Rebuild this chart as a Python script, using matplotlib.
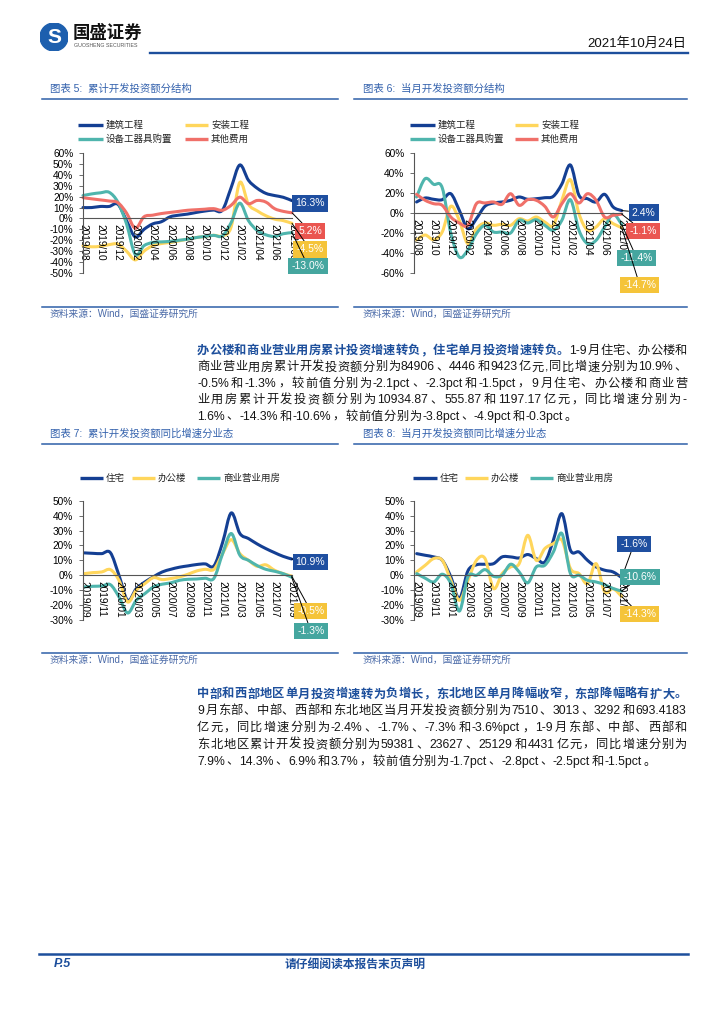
import numpy as np
import matplotlib
matplotlib.use('Agg')
import matplotlib.pyplot as plt
from matplotlib.path import Path
from matplotlib.patches import PathPatch, Circle
from matplotlib.lines import Line2D

plt.rcParams['font.family'] = ['Liberation Sans', 'Noto Sans CJK SC']
plt.rcParams['axes.unicode_minus'] = False

W, H = 724, 1024

# ---------------- data ----------------
cats_a = ['2019/08', '2019/09', '2019/10', '2019/11', '2019/12',
          '2020/01', '2020/02', '2020/03', '2020/04', '2020/05', '2020/06',
          '2020/07', '2020/08', '2020/09', '2020/10', '2020/11', '2020/12',
          '2021/01', '2021/02', '2021/03', '2021/04', '2021/05', '2021/06',
          '2021/07', '2021/08']
cats_b = ['2019/09', '2019/10', '2019/11', '2019/12', '2020/01',
          '2020/02', '2020/03', '2020/04', '2020/05', '2020/06', '2020/07',
          '2020/08', '2020/09', '2020/10', '2020/11', '2020/12', '2021/01',
          '2021/02', '2021/03', '2021/04', '2021/05', '2021/06', '2021/07',
          '2021/08', '2021/09']

names_struct = ['建筑工程', '安装工程', '设备工器具购置', '其他费用']
names_type = ['住宅', '办公楼', '商业营业用房']

# 图表5 累计
c5_build = [10, 10, 11, 11, 13, -2, -17, -10, -5, -3, 1.5, 3, 4, 5.5, 6.8, 7.7, 7.5, 28, 49, 35, 27.7, 23, 21, 19.4, 16.3]
c5_install = [-25, -26, -25.5, -24, -23.5, -30, -38, -30, -25, -23, -22, -20.6, -19, -17.5, -16.6, -15.4, -16, -8, 33, 13, 7, 2.5, -0.6, -2, -4.5]
c5_equip = [21, 22.5, 23.5, 24, 15, -5, -33, -25, -22, -21.5, -21, -20, -19, -17.5, -16.5, -15.5, -16, -4, 14, -2, -11, -15, -16.5, -14, -13.0]
c5_other = [19, 18, 17, 16, 14.5, 5, -9, 1.5, 3, 4.5, 5.5, 6.5, 7.5, 8, 8.5, 9, 7.5, 12, 19.5, 13.5, 16.5, 15, 9, 6.5, 5.2]

# 图表6 当月
c6_build = [11, 15, 13.7, 13.3, 19.3, 2.7, -15.7, -5.7, 6.7, 10, 11, 12.7, 16, 13.7, 14.3, 15.3, 16.7, 29, 48, 17.7, 14.3, 11, 18.7, 6, 2.4]
c6_install = [-27, -22, -26.7, -19, 6.7, -7.3, -30.7, -15.7, -10, -12.3, -11.3, -12.3, -5.7, -8, -4, -9, -12.3, 12.7, 33.3, -0.7, -17.3, -14, -5.7, -10.7, -14.7]
c6_equip = [16, 34.3, 28.7, 25.3, -20, -44, -37, -20.7, -12.3, -19, -19, -20, -7.3, -10, -6.7, -12.3, -17.3, -7.3, 13.3, -17.3, -30.7, -27.3, -14, -1.3, -11.4]
c6_other = [18.7, 12.7, 9.3, 7.7, -4, -10, -12.3, 9.3, 10, 11, 8.7, 19.3, 7.7, 13.3, 12.7, 6.7, -4, 9.3, 19.3, 10, 19.3, 12.7, -4, -2.3, -1.1]

# 图表7 累计同比
c7_res = [15, 14.7, 14.5, 15.2, 0, -16.8, -9, -4.5, -1, 2.2, 4, 5.4, 6.3, 7.2, 7.6, 6.3, 22, 41.8, 28, 24.6, 21, 17.9, 15.2, 12.7, 10.9]
c7_off = [1.1, 1.8, 2.2, 3.8, -3.4, -17.9, -10, -5.6, -1.6, -2.9, -2.2, -1.1, 0.7, 2.9, 4, 4, 14.5, 23.9, 14.5, 10, 6, 7, 3.4, 1.1, -0.5]
c7_com = [-7.8, -7.4, -7.2, -6.3, -14.5, -25.3, -16.8, -12.3, -7.8, -6, -5.1, -3.4, -2.7, -2.5, -2, -2, 14.5, 28, 13.4, 10, 6.5, 4, 2.7, 1.1, -1.3]

# 图表8 当月同比
c8_res = [14.5, 13.4, 12.3, 10, -1.1, -15.6, 3, 7, 7.4, 7.8, 12.3, 12.3, 11.6, 13.9, 11.2, 8.9, 23.5, 41.3, 16.8, 15.6, 10, 5.6, 3.4, 2.2, -1.6]
c8_off = [2.2, 6.7, 11.2, 10, -3.4, -16.8, -3.4, 10, 11.2, -8.9, 1.1, 5.6, 7.8, 26.8, 10, 17.9, 21.2, 23.5, 4.5, 1.1, -5.6, 7.8, -11, -9, -14.3]
c8_com = [1.1, -2, -4.5, 0.7, -5.6, -24, -1, 0, 3.8, -0.7, 0, 7.4, 2.2, -5.1, 5.6, 6.7, 15.6, 28, 1.1, 0, -3.4, -4.5, -6.3, -8.9, -10.6]

BLUE = '#143f93'
YELLOW = '#ffd65c'
TEAL = '#4fb5ad'
RED = '#f07069'
PAGE_BLUE = '#1d4f9c'

fig = plt.figure(figsize=(W / 100, H / 100), dpi=100)


def fx(x):
    return x / W


def fy(y):
    return 1 - y / H


def hline(x0, x1, y, lw=1.0, color=PAGE_BLUE):
    fig.add_artist(Line2D([fx(x0), fx(x1)], [fy(y), fy(y)], color=color, lw=lw,
                          transform=fig.transFigure))


def smooth(ax, ys, color):
    pts = np.column_stack([np.arange(len(ys)), ys]).astype(float)
    n = len(pts)
    verts = [pts[0]]
    codes = [Path.MOVETO]
    for i in range(n - 1):
        p0 = pts[max(i - 1, 0)]
        p1 = pts[i]
        p2 = pts[i + 1]
        p3 = pts[min(i + 2, n - 1)]
        verts += [p1 + (p2 - p0) / 6, p2 - (p3 - p1) / 6, p2]
        codes += [Path.CURVE4] * 3
    ax.add_patch(PathPatch(Path(verts, codes), fill=False, edgecolor=color, lw=2.2,
                           capstyle='round', joinstyle='round', clip_on=False))


def make_ax(x0, x1, ytop, ybot, cats, yticks, xlim):
    ax = fig.add_axes([fx(x0), fy(ybot), (x1 - x0) / W, (ybot - ytop) / H])
    ax.patch.set_alpha(0)
    for s in ['top', 'right']:
        ax.spines[s].set_visible(False)
    ax.spines['bottom'].set_position(('data', 0))
    ax.spines['bottom'].set_color('#555555')
    ax.spines['left'].set_color('#555555')
    ax.spines['bottom'].set_linewidth(0.8)
    ax.spines['left'].set_linewidth(0.8)
    ax.set_yticks(yticks)
    ax.set_yticklabels([f'{v}%' for v in yticks], fontsize=7.3)
    ax.set_xticks(range(0, len(cats), 2))
    ax.set_xticklabels(cats[::2], rotation=-90, fontsize=7.3, va='top', ha='center')
    ax.tick_params(axis='x', length=0, pad=4)
    ax.tick_params(axis='y', length=3, pad=4, width=0.6, color='#555555')
    ax.set_xlim(*xlim)
    ax.set_ylim(yticks[0], yticks[-1])
    return ax


def tag(ax, val, pos, color):
    ax.annotate(f'{val:.1f}%', xy=(24, val), xytext=(pos[0], H - pos[1]),
                textcoords='figure pixels', ha='center', va='center',
                fontsize=7.5, color='white', annotation_clip=False,
                bbox=dict(boxstyle='square,pad=0.3', fc=color, ec='none'),
                arrowprops=dict(arrowstyle='-', color='black', lw=0.7,
                                shrinkA=0, shrinkB=0), zorder=5)


def legend_item(x0, x1, y, text, color):
    fig.add_artist(Line2D([fx(x0), fx(x1)], [fy(y), fy(y)], color=color, lw=2.4,
                          solid_capstyle='butt', transform=fig.transFigure))
    fig.text(fx(x1 + 3), fy(y), text, fontsize=6.8, va='center', ha='left',
             family=['Noto Sans CJK SC'], color='#222222')


# ---------------- header / footer ----------------
logo = fig.add_axes([fx(40), fy(51), 28 / W, 28 / H])
logo.set_xlim(-1, 1)
logo.set_ylim(-1, 1)
logo.set_aspect('equal')
logo.axis('off')
logo.add_patch(Circle((0, 0), 1, color='#1d5fae'))
logo.text(0, -0.05, 'S', color='white', fontsize=15, fontweight='bold', ha='center', va='center')
fig.text(fx(73), fy(33), '国盛证券', fontsize=12.5, fontweight='bold', color='#111111',
         family=['Noto Sans CJK SC'], va='center')
fig.text(fx(74), fy(45.5), 'GUOSHENG SECURITIES', fontsize=3.8, color='#555555', va='center')
fig.text(fx(686), fy(44), '2021年10月24日', fontsize=9.5, ha='right', va='center', color='#111111')
hline(150, 688, 53, lw=1.7)

hline(39, 688, 954, lw=1.8)
fig.text(fx(54), fy(964), 'P.5', fontsize=9, fontweight='bold', style='italic',
         color=PAGE_BLUE, va='center')
fig.text(fx(355), fy(964), '请仔细阅读本报告末页声明', fontsize=8.5, fontweight='bold',
         color=PAGE_BLUE, ha='center', va='center', family=['Noto Sans CJK SC'])

# titles and sources
titles = [(50, 89, '图表 5:  累计开发投资额分结构'), (363, 89, '图表 6:  当月开发投资额分结构'),
          (50, 434, '图表 7:  累计开发投资额同比增速分业态'), (363, 434, '图表 8:  当月开发投资额同比增速分业态')]
for x, y, t in titles:
    fig.text(fx(x), fy(y), t, fontsize=7.5, color='#3462ad', va='center')
for y in [99, 444]:
    hline(42, 338, y, lw=1.1, color='#2e5fa8')
    hline(354, 687, y, lw=1.1, color='#2e5fa8')
for yl, yt in [(307, 314), (653, 659.5)]:
    hline(42, 338, yl, lw=1.1, color='#2e5fa8')
    hline(354, 687, yl, lw=1.1, color='#2e5fa8')
    fig.text(fx(50), fy(yt), '资料来源：Wind，国盛证券研究所', fontsize=7, color='#4a6aa8', va='center')
    fig.text(fx(363), fy(yt), '资料来源：Wind，国盛证券研究所', fontsize=7, color='#4a6aa8', va='center')

# ---------------- charts ----------------
ax5 = make_ax(83, 292, 153, 273, cats_a, list(range(-50, 61, 10)), (0, 24))
for ys, c in zip([c5_build, c5_install, c5_equip, c5_other], [BLUE, YELLOW, TEAL, RED]):
    smooth(ax5, ys, c)
tag(ax5, c5_build[-1], (310, 203.5), '#1f4fa0')
tag(ax5, c5_other[-1], (310, 231), '#ea5550')
tag(ax5, c5_install[-1], (310, 249.5), '#f5c43a')
tag(ax5, c5_equip[-1], (308, 266), '#45a69f')
legend_item(78, 103, 125, names_struct[0], BLUE)
legend_item(185, 208, 125, names_struct[1], YELLOW)
legend_item(78, 103, 139, names_struct[2], TEAL)
legend_item(185, 208, 139, names_struct[3], RED)

ax6 = make_ax(414, 621.7, 153, 273, cats_a, list(range(-60, 61, 20)), (-0.3, 24))
for ys, c in zip([c6_build, c6_install, c6_equip, c6_other], [BLUE, YELLOW, TEAL, RED]):
    smooth(ax6, ys, c)
tag(ax6, c6_build[-1], (643.5, 212.5), '#1f4fa0')
tag(ax6, c6_other[-1], (643, 231), '#ea5550')
tag(ax6, c6_equip[-1], (636.7, 258), '#45a69f')
tag(ax6, c6_install[-1], (639.7, 285), '#f5c43a')
legend_item(410, 435, 125, names_struct[0], BLUE)
legend_item(515, 538, 125, names_struct[1], YELLOW)
legend_item(410, 435, 139, names_struct[2], TEAL)
legend_item(515, 538, 139, names_struct[3], RED)

ax7 = make_ax(82.7, 291.7, 500.7, 620, cats_b, list(range(-30, 51, 10)), (-0.2, 24))
for ys, c in zip([c7_res, c7_off, c7_com], [BLUE, YELLOW, TEAL]):
    smooth(ax7, ys, c)
tag(ax7, c7_res[-1], (310.5, 562), '#1f4fa0')
tag(ax7, c7_off[-1], (310.8, 611), '#f5c43a')
tag(ax7, c7_com[-1], (310.8, 631), '#45a69f')
legend_item(80, 103, 478, names_type[0], BLUE)
legend_item(132, 155, 478, names_type[1], YELLOW)
legend_item(197, 220, 478, names_type[2], TEAL)

ax8 = make_ax(414.3, 621.7, 500.7, 620, cats_b, list(range(-30, 51, 10)), (-0.28, 24))
for ys, c in zip([c8_res, c8_off, c8_com], [BLUE, YELLOW, TEAL]):
    smooth(ax8, ys, c)
tag(ax8, c8_res[-1], (634, 544), '#1f4fa0')
tag(ax8, c8_com[-1], (640, 577), '#45a69f')
tag(ax8, c8_off[-1], (639.7, 614), '#f5c43a')
legend_item(413, 437, 478, names_type[0], BLUE)
legend_item(465, 488, 478, names_type[1], YELLOW)
legend_item(530, 553, 478, names_type[2], TEAL)

# ---------------- paragraphs ----------------
B = 'b'
N = 'n'
par1 = [
    [('办公楼和商业营业用房累计投资增速转负，住宅单月投资增速转负。', B), ('1-9月住宅、办公楼和', N)],
    [('商业营业用房累计开发投资额分别为84906、4446和9423亿元,同比增速分别为10.9%、', N)],
    [('-0.5%和-1.3%，较前值分别为-2.1pct、-2.3pct和-1.5pct，9月住宅、办公楼和商业营', N)],
    [('业用房累计开发投资额分别为10934.87、555.87和1197.17亿元，同比增速分别为-', N)],
    [('1.6%、-14.3%和-10.6%，较前值分别为-3.8pct、-4.9pct和-0.3pct。', N)],
]
par2 = [
    [('中部和西部地区单月投资增速转为负增长，东北地区单月降幅收窄，东部降幅略有扩大。', B)],
    [('9月东部、中部、西部和东北地区当月开发投资额分别为7510、3013、3292和693.4183', N)],
    [('亿元，同比增速分别为-2.4%、-1.7%、-7.3%和-3.6%pct，1-9月东部、中部、西部和', N)],
    [('东北地区累计开发投资额分别为59381、23627、25129和4431亿元，同比增速分别为', N)],
    [('7.9%、14.3%、6.9%和3.7%，较前值分别为-1.7pct、-2.8pct、-2.5pct和-1.5pct。', N)],
]

renderer = fig.canvas.get_renderer()
FS = 8.8
EM = FS * 100 / 72


def draw_par(lines, y0, dy, x0=197, x1=687):
    for k, segs in enumerate(lines):
        tokens = []
        for txt, sty in segs:
            run = ''
            for ch in txt:
                if ord(ch) < 128:
                    run += ch
                else:
                    if run:
                        tokens.append((run, sty))
                        run = ''
                    tokens.append((ch, sty))
            if run:
                tokens.append((run, sty))
        arts, widths = [], []
        for t, sty in tokens:
            if sty == B:
                a = fig.text(0, 0, t, fontsize=FS, fontweight='bold', color=PAGE_BLUE,
                             family=['Noto Sans CJK SC'], va='baseline')
            else:
                a = fig.text(0, 0, t, fontsize=FS, color='#161616',
                             family=['Liberation Sans', 'Noto Sans CJK SC'], va='baseline')
            if ord(t[0]) >= 128:
                w = EM
            else:
                w = a.get_window_extent(renderer).width + 1.0
            arts.append(a)
            widths.append(w)
        if k < len(lines) - 1:
            gap = (x1 - x0 - sum(widths)) / (len(arts) - 1)
        else:
            gap = 0.6
        x = x0
        yb = y0 + k * dy + 4.5
        for a, w in zip(arts, widths):
            a.set_position((fx(x), fy(yb)))
            x += w + gap


draw_par(par1, 349.5, 16.4)
draw_par(par2, 693, 16.8)

fig.savefig('out.png', dpi=100)
